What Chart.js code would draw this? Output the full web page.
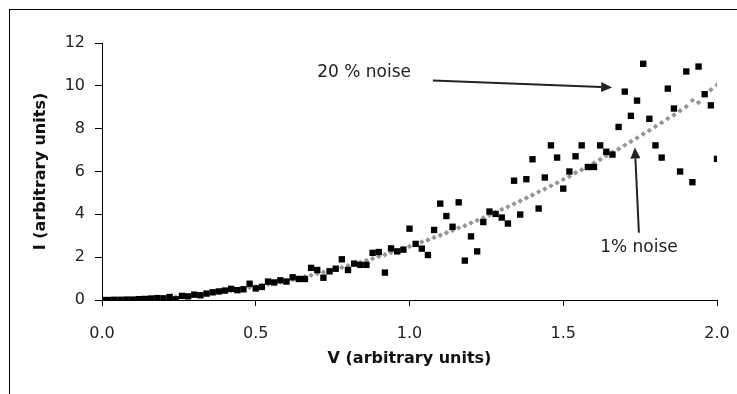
<!DOCTYPE html>
<html>
<head>
<meta charset="utf-8">
<script src="https://cdn.jsdelivr.net/npm/chart.js@4"></script>
<style>
  body { margin: 0; background: #fff; }
  #wrap { width: 737px; height: 394px; }
</style>
</head>
<body>
<div id="wrap"><canvas id="ivChart" width="737" height="394"></canvas></div>
<script>
// Tension V (unités arbitraires)
const vValues = [
  0.00, 0.02, 0.04, 0.06, 0.08, 0.10, 0.12, 0.14, 0.16, 0.18,
  0.20, 0.22, 0.24, 0.26, 0.28, 0.30, 0.32, 0.34, 0.36, 0.38,
  0.40, 0.42, 0.44, 0.46, 0.48, 0.50, 0.52, 0.54, 0.56, 0.58,
  0.60, 0.62, 0.64, 0.66, 0.68, 0.70, 0.72, 0.74, 0.76, 0.78,
  0.80, 0.82, 0.84, 0.86, 0.88, 0.90, 0.92, 0.94, 0.96, 0.98,
  1.00, 1.02, 1.04, 1.06, 1.08, 1.10, 1.12, 1.14, 1.16, 1.18,
  1.20, 1.22, 1.24, 1.26, 1.28, 1.30, 1.32, 1.34, 1.36, 1.38,
  1.40, 1.42, 1.44, 1.46, 1.48, 1.50, 1.52, 1.54, 1.56, 1.58,
  1.60, 1.62, 1.64, 1.66, 1.68, 1.70, 1.72, 1.74, 1.76, 1.78,
  1.80, 1.82, 1.84, 1.86, 1.88, 1.90, 1.92, 1.94, 1.96, 1.98,
  2.00
];

// Courant I avec 20 % de bruit (carrés noirs)
const noise20 = [
  0.00, 0.00, 0.01, 0.01, 0.02, 0.02, 0.04, 0.05, 0.07, 0.09,
  0.08, 0.14, 0.03, 0.19, 0.17, 0.25, 0.22, 0.30, 0.36, 0.40,
  0.44, 0.52, 0.46, 0.50, 0.76, 0.54, 0.61, 0.86, 0.82, 0.92,
  0.86, 1.06, 0.98, 0.98, 1.50, 1.40, 1.04, 1.34, 1.46, 1.90,
  1.40, 1.70, 1.64, 1.64, 2.20, 2.24, 1.28, 2.41, 2.27, 2.35,
  3.33, 2.62, 2.40, 2.10, 3.27, 4.50, 3.92, 3.42, 4.56, 1.84,
  2.97, 2.27, 3.64, 4.13, 4.02, 3.85, 3.57, 5.57, 3.99, 5.64,
  6.57, 4.27, 5.72, 7.22, 6.65, 5.20, 6.00, 6.71, 7.22, 6.21,
  6.21, 7.22, 6.92, 6.79, 8.08, 9.73, 8.60, 9.31, 11.03, 8.46,
  7.22, 6.65, 9.87, 8.94, 6.00, 10.67, 5.50, 10.90, 9.61, 9.09,
  6.59
];

// Courant I avec 1 % de bruit (losanges gris)
const noise1 = [
  0.00, 0.00, 0.00, 0.01, 0.02, 0.03, 0.04, 0.05, 0.06, 0.08,
  0.10, 0.12, 0.14, 0.17, 0.20, 0.23, 0.26, 0.29, 0.32, 0.36,
  0.40, 0.44, 0.49, 0.53, 0.58, 0.62, 0.68, 0.73, 0.78, 0.84,
  0.90, 0.96, 1.03, 1.09, 1.15, 1.23, 1.30, 1.37, 1.44, 1.52,
  1.60, 1.68, 1.77, 1.85, 1.93, 2.03, 2.11, 2.21, 2.30, 2.41,
  2.50, 2.59, 2.71, 2.80, 2.92, 3.02, 3.14, 3.24, 3.37, 3.47,
  3.60, 3.72, 3.83, 3.97, 4.09, 4.23, 4.35, 4.49, 4.62, 4.76,
  4.90, 5.05, 5.18, 5.33, 5.47, 5.63, 5.77, 5.94, 6.08, 6.25,
  6.40, 6.56, 6.73, 6.90, 7.05, 7.23, 7.40, 7.57, 7.75, 7.92,
  8.10, 8.28, 8.47, 8.64, 8.84, 9.03, 9.32, 9.22, 9.60, 9.82,
  10.05
];

// Graduations des axes
const xTicks = [0.0, 0.5, 1.0, 1.5, 2.0];
const yTicks = [0, 2, 4, 6, 8, 10, 12];

// Annotations (coordonnées en unités de données)
const notes = [
  { text: '20 % noise', at: [0.70, 10.62], from: [1.076, 10.25], to: [1.659, 9.92] },
  { text: '1% noise', at: [1.62, 2.44], from: [1.746, 3.14], to: [1.733, 7.12] }
];

const toPoints = (ys) => vValues.map((v, i) => ({ x: v, y: ys[i] }));

// Cadre extérieur + flèches
const decorPlugin = {
  id: 'decor',
  beforeDraw(chart) {
    const ctx = chart.ctx;
    ctx.save();
    ctx.fillStyle = '#fff';
    ctx.fillRect(0, 0, chart.width, chart.height);
    ctx.strokeStyle = '#000';
    ctx.lineWidth = 1;
    ctx.strokeRect(9.5, 9.5, chart.width + 20, chart.height + 20);
    ctx.restore();
  },
  afterDatasetsDraw(chart) {
    const ctx = chart.ctx;
    const xs = chart.scales.x, ys = chart.scales.y;
    ctx.save();
    notes.forEach(n => {
      ctx.fillStyle = '#222';
      ctx.font = '17px "DejaVu Sans"';
      ctx.textBaseline = 'middle';
      ctx.textAlign = 'left';
      ctx.fillText(n.text, xs.getPixelForValue(n.at[0]), ys.getPixelForValue(n.at[1]));

      const x1 = xs.getPixelForValue(n.from[0]), y1 = ys.getPixelForValue(n.from[1]);
      const x2 = xs.getPixelForValue(n.to[0]), y2 = ys.getPixelForValue(n.to[1]);
      const ang = Math.atan2(y2 - y1, x2 - x1);
      const head = 11, half = 5;
      ctx.strokeStyle = '#222';
      ctx.lineWidth = 2;
      ctx.beginPath();
      ctx.moveTo(x1, y1);
      ctx.lineTo(x2 - head * Math.cos(ang), y2 - head * Math.sin(ang));
      ctx.stroke();
      ctx.beginPath();
      ctx.moveTo(x2, y2);
      ctx.lineTo(x2 - head * Math.cos(ang) + half * Math.sin(ang), y2 - head * Math.sin(ang) - half * Math.cos(ang));
      ctx.lineTo(x2 - head * Math.cos(ang) - half * Math.sin(ang), y2 - head * Math.sin(ang) + half * Math.cos(ang));
      ctx.closePath();
      ctx.fill();
    });
    ctx.restore();
  }
};

new Chart(document.getElementById('ivChart'), {
  type: 'scatter',
  data: {
    datasets: [
      {
        label: '20 % noise',
        data: toPoints(noise20),
        pointStyle: 'rect',
        pointRadius: 4.5,
        borderWidth: 0,
        backgroundColor: '#000',
        order: 0
      },
      {
        label: '1% noise',
        data: toPoints(noise1),
        pointStyle: 'rectRot',
        pointRadius: 2.7,
        borderWidth: 0,
        backgroundColor: '#959595',
        order: 1
      }
    ]
  },
  options: {
    responsive: false,
    animation: false,
    layout: { padding: { top: 43, right: 20, left: 0, bottom: 0 }, autoPadding: false },
    plugins: { legend: { display: false }, tooltip: { enabled: false } },
    scales: {
      x: {
        type: 'linear',
        min: 0,
        max: 2,
        afterBuildTicks: (s) => { s.ticks = xTicks.map(v => ({ value: v })); },
        afterFit: (s) => { s.height = 94; s.paddingLeft = 0; s.paddingRight = 0; },
        ticks: {
          callback: (v) => Number(v).toFixed(1),
          color: '#222',
          font: { family: 'DejaVu Sans', size: 16 },
          padding: 18,
          maxRotation: 0
        },
        grid: { drawOnChartArea: false, drawTicks: true, tickLength: 6, color: '#000' },
        border: { display: true, color: '#000', width: 1 },
        title: {
          display: true,
          text: 'V (arbitrary units)',
          color: '#111',
          font: { family: 'DejaVu Sans', size: 16, weight: 'bold' },
          padding: { top: 0, bottom: 26 }
        }
      },
      y: {
        type: 'linear',
        min: 0,
        max: 12,
        afterBuildTicks: (s) => { s.ticks = yTicks.map(v => ({ value: v })); },
        afterFit: (s) => { s.width = 102; s.paddingTop = 0; s.paddingBottom = 0; },
        ticks: {
          color: '#222',
          font: { family: 'DejaVu Sans', size: 16 },
          padding: 10
        },
        grid: { drawOnChartArea: false, drawTicks: true, tickLength: 7, color: '#000' },
        border: { display: true, color: '#000', width: 1 },
        title: {
          display: true,
          text: 'I (arbitrary units)',
          color: '#111',
          font: { family: 'DejaVu Sans', size: 16, weight: 'bold' },
          padding: { top: 31, bottom: 0 }
        }
      }
    }
  },
  plugins: [decorPlugin]
});
</script>
</body>
</html>
